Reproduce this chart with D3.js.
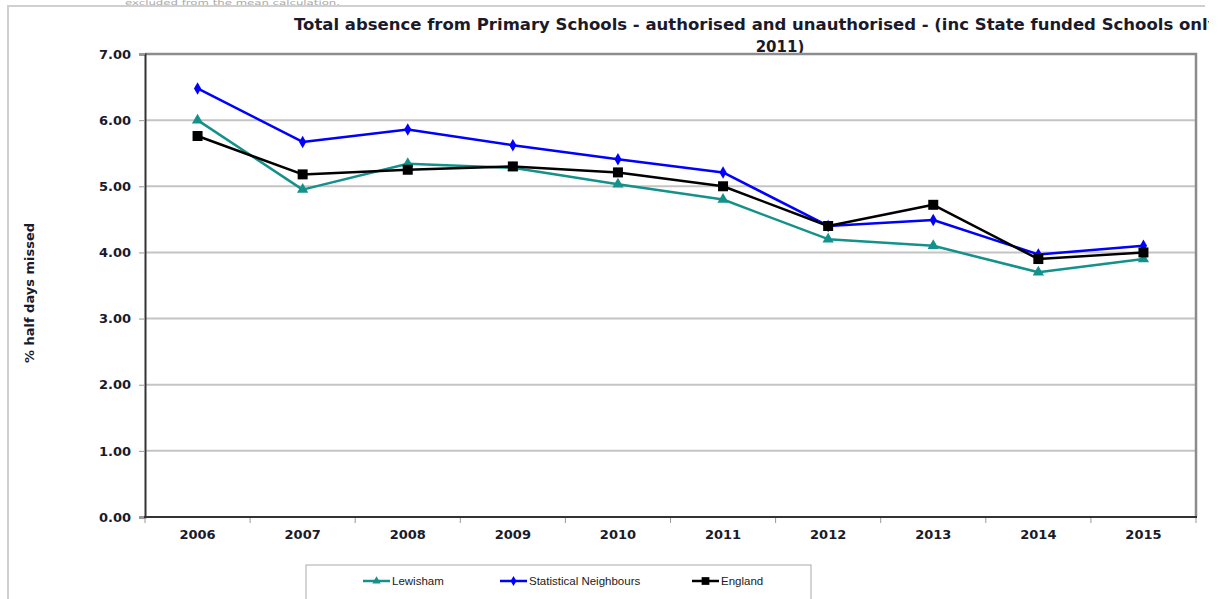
<!DOCTYPE html>
<html>
<head>
<meta charset="utf-8">
<script src="https://cdn.jsdelivr.net/npm/d3@7"></script>
<style>
  html, body { margin: 0; padding: 0; background: #fff; }
  svg { display: block; }
</style>
</head>
<body>
<svg id="chart" width="1218" height="599"></svg>
<script>
// Absence rates (% half days missed), primary schools
const years = ["2006", "2007", "2008", "2009", "2010", "2011", "2012", "2013", "2014", "2015"];
const lewisham = [6.0, 4.95, 5.34, 5.28, 5.03, 4.8, 4.2, 4.1, 3.7, 3.9];
const statNeighbours = [6.48, 5.67, 5.86, 5.62, 5.41, 5.21, 4.4, 4.49, 3.97, 4.1];
const england = [5.76, 5.18, 5.25, 5.3, 5.21, 5.0, 4.4, 4.72, 3.9, 4.0];
const yTicks = [0, 1, 2, 3, 4, 5, 6, 7];

const seriesList = [
  { name: "Lewisham", values: lewisham, color: "#14918a", marker: "triangle" },
  { name: "Statistical Neighbours", values: statNeighbours, color: "#0000ff", marker: "diamond" },
  { name: "England", values: england, color: "#000000", marker: "square" }
];

const svg = d3.select("#chart");
const plot = { left: 145, right: 1196, top: 54, bottom: 517 };

const x = d3.scaleBand().domain(years).range([plot.left, plot.right]);
const y = d3.scaleLinear().domain([0, 7]).range([plot.bottom, plot.top]);

// Outer frame
svg.append("path")
  .attr("d", `M8,599 L8,6 L1205,6`)
  .attr("fill", "none").attr("stroke", "#d0d0d0").attr("stroke-width", 2);

// Faint note above the frame
svg.append("text")
  .attr("x", 125).attr("y", 5)
  .attr("font-family", "Verdana, 'DejaVu Sans', sans-serif")
  .attr("font-size", 7).attr("fill", "#a8a8a8")
  .attr("textLength", 215).attr("lengthAdjust", "spacingAndGlyphs")
  .text("excluded from the mean calculation.");

// Title (first line runs off the right edge)
const titleClip = svg.append("clipPath").attr("id", "titleClip");
titleClip.append("rect").attr("x", 0).attr("y", 0).attr("width", 1209).attr("height", 60);
const title = svg.append("g").attr("clip-path", "url(#titleClip)")
  .attr("font-family", "'DejaVu Sans', Verdana, sans-serif")
  .attr("font-weight", "bold").attr("font-size", 15).attr("fill", "#1a1a2a")
  .attr("text-anchor", "middle");
title.append("text")
  .attr("x", 781).attr("y", 30)
  .attr("textLength", 974).attr("lengthAdjust", "spacingAndGlyphs")
  .text("Total absence from Primary Schools - authorised and unauthorised - (inc State funded Schools only from");
title.append("text")
  .attr("x", 780).attr("y", 52)
  .text("2011)");

// Gridlines
svg.append("g")
  .selectAll("line")
  .data(yTicks.filter(d => d > 0 && d < 7))
  .join("line")
  .attr("x1", plot.left).attr("x2", plot.right)
  .attr("y1", d => y(d)).attr("y2", d => y(d))
  .attr("stroke", "#c4c4c4").attr("stroke-width", 2);

// Plot frame: top and right
svg.append("path")
  .attr("d", `M${plot.left},${plot.top} L${plot.right},${plot.top} L${plot.right},${plot.bottom}`)
  .attr("fill", "none").attr("stroke", "#8c8c8c").attr("stroke-width", 2.5);

// Y axis
const yAxis = svg.append("g")
  .attr("transform", `translate(${plot.left},0)`)
  .call(d3.axisLeft(y).tickValues(yTicks).tickFormat(d3.format(".2f")).tickSize(6).tickPadding(8));
yAxis.select(".domain").attr("stroke", "#333").attr("stroke-width", 2);
yAxis.selectAll(".tick line").attr("stroke", "#999");
yAxis.selectAll("text")
  .attr("font-family", "'DejaVu Sans', Verdana, sans-serif")
  .attr("font-weight", "bold").attr("font-size", 13).attr("fill", "#1a1a2a");

// X axis with ticks between categories
const xAxis = svg.append("g")
  .attr("transform", `translate(0,${plot.bottom})`)
  .call(d3.axisBottom(x).tickSize(0).tickPadding(13));
xAxis.select(".domain").remove();
xAxis.selectAll("text")
  .attr("font-family", "'DejaVu Sans', Verdana, sans-serif")
  .attr("font-weight", "bold").attr("font-size", 13).attr("fill", "#1a1a2a");
svg.append("g")
  .selectAll("line")
  .data(years)
  .join("line")
  .attr("x1", d => x(d)).attr("x2", d => x(d))
  .attr("y1", plot.bottom).attr("y2", plot.bottom + 6)
  .attr("stroke", "#999");
svg.append("line")
  .attr("x1", plot.right).attr("x2", plot.right)
  .attr("y1", plot.bottom).attr("y2", plot.bottom + 6)
  .attr("stroke", "#999");
svg.append("line")
  .attr("x1", plot.left - 1).attr("x2", plot.right + 1)
  .attr("y1", plot.bottom).attr("y2", plot.bottom)
  .attr("stroke", "#333").attr("stroke-width", 2);

// Y axis title
svg.append("text")
  .attr("transform", `translate(34,293) rotate(-90)`)
  .attr("text-anchor", "middle")
  .attr("font-family", "'DejaVu Sans', Verdana, sans-serif")
  .attr("font-weight", "bold").attr("font-size", 13).attr("fill", "#1a1a2a")
  .text("% half days missed");

// Marker shapes
function markerPath(type, size) {
  if (type === "triangle") return d3.symbol(d3.symbolTriangle, size)();
  if (type === "diamond") return d3.symbol(d3.symbolDiamond, size)();
  return d3.symbol(d3.symbolSquare, size)();
}
const markerSize = { triangle: 55, diamond: 45, square: 100 };

const line = d3.line()
  .x((d, i) => x(years[i]) + x.bandwidth() / 2)
  .y(d => y(d));

// Draw Lewisham first, England last (on top)
seriesList.forEach(s => {
  const g = svg.append("g");
  g.append("path")
    .datum(s.values)
    .attr("d", line)
    .attr("fill", "none")
    .attr("stroke", s.color).attr("stroke-width", 2.5)
    .attr("stroke-linejoin", "round");
  g.selectAll("path.mk")
    .data(s.values)
    .join("path").attr("class", "mk")
    .attr("transform", (d, i) => `translate(${x(years[i]) + x.bandwidth() / 2},${y(d)})`)
    .attr("d", markerPath(s.marker, markerSize[s.marker]))
    .attr("fill", s.color);
});

// Legend
const legend = svg.append("g");
legend.append("rect")
  .attr("x", 306).attr("y", 565).attr("width", 505).attr("height", 40)
  .attr("fill", "#fff").attr("stroke", "#b8b8b8").attr("stroke-width", 1.2);
const legendItems = [
  { s: seriesList[0], x0: 363 },
  { s: seriesList[1], x0: 500 },
  { s: seriesList[2], x0: 692 }
];
legendItems.forEach(item => {
  const cy = 581;
  legend.append("line")
    .attr("x1", item.x0).attr("x2", item.x0 + 27)
    .attr("y1", cy).attr("y2", cy)
    .attr("stroke", item.s.color).attr("stroke-width", 2.5);
  legend.append("path")
    .attr("transform", `translate(${item.x0 + 13.5},${cy})`)
    .attr("d", markerPath(item.s.marker, item.s.marker === "square" ? 60 : 30))
    .attr("fill", item.s.color);
  legend.append("text")
    .attr("x", item.x0 + 29).attr("y", cy + 4)
    .attr("font-family", "'Liberation Sans', Arial, sans-serif")
    .attr("font-size", 11.5).attr("fill", "#1a1a1a")
    .text(item.s.name);
});
</script>
</body>
</html>
